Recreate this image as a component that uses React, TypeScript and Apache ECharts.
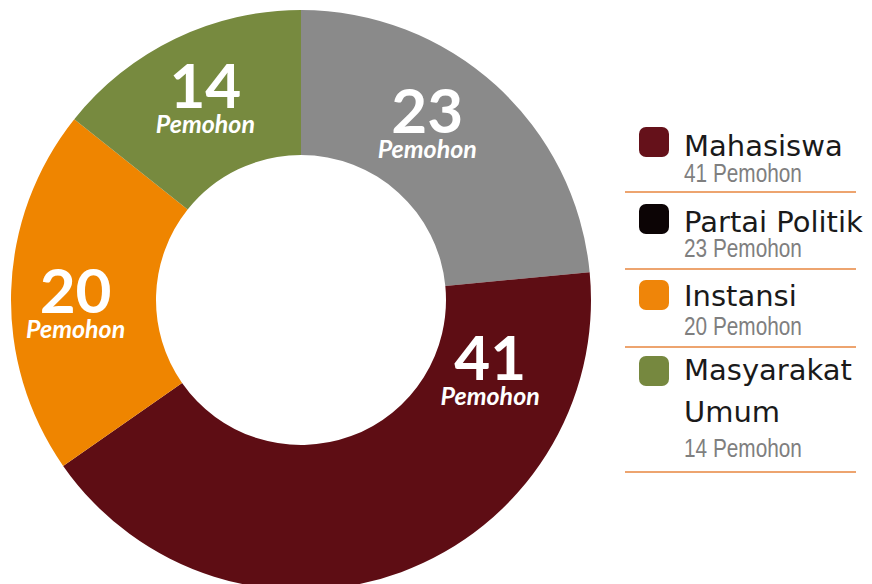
import React, { useEffect, useRef } from 'react';
import * as echarts from 'echarts';

// ---- data ----
const categories = ['Partai Politik', 'Mahasiswa', 'Instansi', 'Masyarakat Umum'];
const values = [23, 41, 20, 14];
const sliceColors = ['#8a8a8a', '#5e0d14', '#ef8500', '#778a3f'];
const unitLabel = 'Pemohon';
const legendOrder = ['Mahasiswa', 'Partai Politik', 'Instansi', 'Masyarakat Umum'];
const legendColors = ['#65111a', '#0c0405', '#ef8509', '#76883f'];

// ---- layout (not data) ----
const LABEL_OFFSETS = [
  [-22, -15],
  [113, -138],
  [-5, 9],
  [0, -4],
];
const LEG = {
  squareX: 639,
  squareSize: 30,
  textX: 684,
  lineX1: 625,
  lineX2: 856,
  squareTop: [127, 204, 280, 356],
  nameTop: [125, 201, 275, 349],
  subY: [173, 248, 326, 448],
  lineY: [192, 269, 347, 472],
};

function buildLegend() {
  const els: any[] = [];
  legendOrder.forEach((name, i) => {
    const idx = categories.indexOf(name);
    const v = values[idx];
    els.push({
      type: 'rect',
      silent: true,
      shape: { x: LEG.squareX, y: LEG.squareTop[i], width: LEG.squareSize, height: LEG.squareSize, r: 7 },
      style: { fill: legendColors[i] },
    });
    els.push({
      type: 'text',
      silent: true,
      x: LEG.textX,
      y: LEG.nameTop[i],
      style: {
        text: name,
        font: '29px "DejaVu Sans", sans-serif',
        fill: '#1a1a1a',
        width: 200,
        overflow: 'break',
        lineHeight: 42,
        verticalAlign: 'top',
        align: 'left',
      },
    });
    els.push({
      type: 'text',
      silent: true,
      x: LEG.textX,
      y: LEG.subY[i],
      scaleX: 0.8,
      style: {
        text: `${v} ${unitLabel}`,
        font: '26px "Liberation Sans", Arial, sans-serif',
        fill: '#7f7f7f',
        verticalAlign: 'middle',
        align: 'left',
      },
    });
    els.push({
      type: 'line',
      silent: true,
      shape: { x1: LEG.lineX1, y1: LEG.lineY[i], x2: LEG.lineX2, y2: LEG.lineY[i] },
      style: { stroke: '#eda46f', lineWidth: 2 },
    });
  });
  return els;
}

export default function App() {
  const ref = useRef<HTMLDivElement>(null);
  useEffect(() => {
    if (!ref.current) return;
    const chart = echarts.init(ref.current, undefined, { renderer: 'svg' });
    chart.setOption({
      animation: false,
      backgroundColor: '#ffffff',
      series: [
        {
          type: 'pie',
          center: [301, 300],
          radius: [145, 290],
          startAngle: 90,
          clockwise: true,
          silent: true,
          avoidLabelOverlap: false,
          emphasis: { disabled: true },
          label: {
            show: true,
            position: 'inside',
            formatter: (p: any) => `{n|${p.value}}\n{p|${unitLabel}}`,
            rich: {
              n: {
                fontFamily: 'Lato, sans-serif',
                fontWeight: 'bold',
                fontSize: 62,
                lineHeight: 52,
                color: '#ffffff',
                align: 'center',
              },
              p: {
                fontFamily: 'Lato, sans-serif',
                fontWeight: 'bold',
                fontStyle: 'italic',
                fontSize: 25,
                lineHeight: 26,
                color: '#ffffff',
                align: 'center',
              },
            },
          },
          labelLine: { show: false },
          labelLayout: (params: any) => {
            const o = LABEL_OFFSETS[params.dataIndex];
            return { dx: o[0], dy: o[1] };
          },
          data: categories.map((name, i) => ({
            name,
            value: values[i],
            itemStyle: { color: sliceColors[i] },
          })),
        },
      ],
      graphic: buildLegend(),
    });
    return () => chart.dispose();
  }, []);
  return (
    <div
      ref={ref}
      style={{ position: 'absolute', left: 0, top: 0, width: 872, height: 584 }}
    />
  );
}
